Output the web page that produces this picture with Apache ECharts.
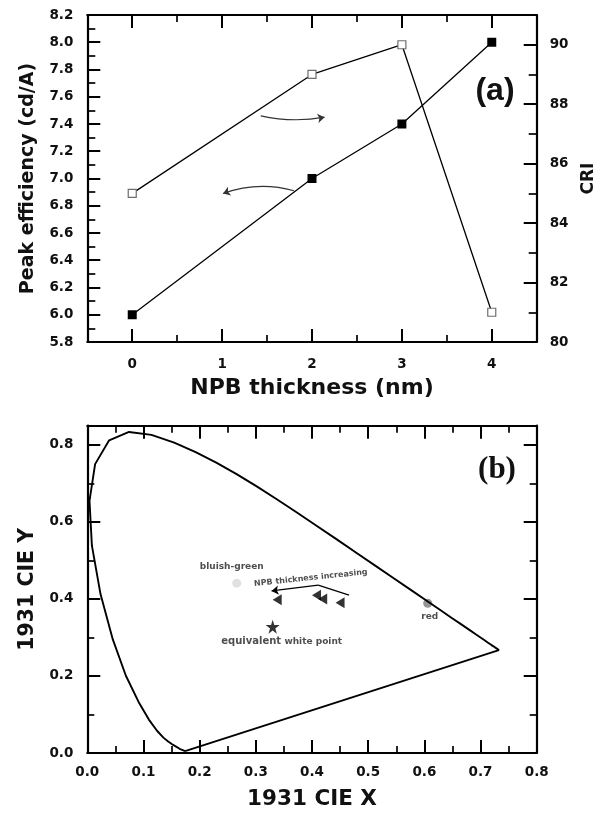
<!DOCTYPE html>
<html>
<head>
<meta charset="utf-8">
<script src="https://cdn.jsdelivr.net/npm/echarts@6/dist/echarts.min.js"></script>
<style>
  html, body { margin: 0; padding: 0; background: #fff; }
  #chart { width: 605px; height: 815px; }
</style>
</head>
<body>
<div id="chart"></div>
<script>
// ---- Panel (a): efficiency and CRI versus NPB thickness ----
const THICKNESS = [0, 2, 3, 4];
const PEAK_EFF = [6.0, 7.0, 7.4, 8.0];      // cd/A
const CRI_VALUES = [85, 89, 90, 81];

const A_X_MAJOR = [0, 1, 2, 3, 4];
const A_X_MINOR = [0.5, 1.5, 2.5, 3.5];
const A_X_LABELS = [0, 1, 2, 3, 4];
const A_EFF_LABELS = [5.8, 6.0, 6.2, 6.4, 6.6, 6.8, 7.0, 7.2, 7.4, 7.6, 7.8, 8.0, 8.2];
const A_EFF_MINOR = [5.9, 6.1, 6.3, 6.5, 6.7, 6.9, 7.1, 7.3, 7.5, 7.7, 7.9, 8.1];
const A_CRI_MAJOR = [80, 82, 84, 86, 88, 90];
const A_CRI_MINOR = [81, 83, 85, 87, 89, 91];

// curved guide arrows (start, end) in data units
const ARROW_TO_CRI = [[1.43, 7.46], [2.14, 7.45]];
const ARROW_TO_EFF = [[1.80, 6.91], [1.01, 6.89]];

// ---- Panel (b): CIE 1931 chromaticity diagram ----
const LOCUS_X = [0.1741, 0.1644, 0.1566, 0.1510, 0.1440, 0.1355, 0.1241, 0.1096, 0.0913, 0.0687,
  0.0454, 0.0235, 0.0082, 0.0039, 0.0139, 0.0389, 0.0743, 0.1142, 0.1547, 0.1929,
  0.2296, 0.2658, 0.3016, 0.3373, 0.3731, 0.4087, 0.4441, 0.4788, 0.5125, 0.5448,
  0.5752, 0.6029, 0.6270, 0.6482, 0.6658, 0.6801, 0.6915, 0.7006, 0.7079, 0.7140,
  0.7190, 0.7230, 0.7260, 0.7283, 0.7300, 0.7311, 0.7320, 0.7327, 0.7334, 0.7340,
  0.7347, 0.1741];
const LOCUS_Y = [0.0050, 0.0109, 0.0177, 0.0227, 0.0297, 0.0399, 0.0578, 0.0868, 0.1327, 0.2007,
  0.2950, 0.4127, 0.5384, 0.6548, 0.7502, 0.8120, 0.8338, 0.8262, 0.8059, 0.7816,
  0.7543, 0.7243, 0.6923, 0.6589, 0.6245, 0.5896, 0.5547, 0.5202, 0.4866, 0.4544,
  0.4242, 0.3965, 0.3725, 0.3514, 0.3340, 0.3197, 0.3083, 0.2993, 0.2920, 0.2859,
  0.2809, 0.2770, 0.2740, 0.2717, 0.2700, 0.2689, 0.2680, 0.2673, 0.2666, 0.2660,
  0.2653, 0.0050];

const BLUISH_GREEN = [0.266, 0.441];
const RED_POINT = [0.606, 0.389];
const WHITE_POINT = [0.330, 0.328];
const DEVICE_X = [0.338, 0.408, 0.419, 0.450];
const DEVICE_Y = [0.398, 0.410, 0.400, 0.390];

const B_X_MAJOR = [0, 0.1, 0.2, 0.3, 0.4, 0.5, 0.6, 0.7, 0.8];
const B_X_MINOR = [0.05, 0.15, 0.25, 0.35, 0.45, 0.55, 0.65, 0.75];
const B_Y_MAJOR = [0, 0.2, 0.4, 0.6, 0.8];
const B_Y_MINOR = [0.1, 0.3, 0.5, 0.7];

// trend arrow (kinked) and its caption anchor
const TREND_ARROW = [[0.466, 0.410], [0.411, 0.436], [0.328, 0.421]];
const TREND_CAPTION_AT = [0.398, 0.4545];

const FONT = 'DejaVu Sans';
const INK = '#111';

function axis(grid, pos, min, max, ticks, len, opts) {
  opts = opts || {};
  const a = {
    type: 'value', gridIndex: grid, position: pos, min: min, max: max,
    splitLine: { show: false },
    axisLine: { show: !!opts.line, onZero: false, lineStyle: { color: '#000', width: 2.2 } },
    axisTick: { show: true, inside: true, length: len, customValues: ticks,
                lineStyle: { color: '#000', width: len > 10 ? 2 : 1.7 } },
    axisLabel: { show: false }
  };
  if (opts.labels) {
    a.axisLabel = {
      show: true, customValues: opts.labels, margin: opts.margin || 14,
      color: INK, fontFamily: FONT, fontWeight: 'bold', fontSize: 13.5,
      formatter: opts.fmt || (v => String(v))
    };
  }
  if (opts.name) {
    a.name = opts.name;
    a.nameLocation = 'middle';
    a.nameGap = opts.nameGap;
    if (opts.nameRotate !== undefined) a.nameRotate = opts.nameRotate;
    a.nameTextStyle = { color: INK, fontFamily: FONT, fontWeight: 'bold', fontSize: opts.nameSize };
  }
  return a;
}

const fix1 = v => v.toFixed(1);

const option = {
  animation: false,
  backgroundColor: '#fff',
  grid: [
    { left: 87.3, right: 68.3, top: 15, bottom: 473 },
    { left: 87.3, right: 68.3, top: 425.7, bottom: 62 }
  ],
  xAxis: [
    axis(0, 'bottom', -0.5, 4.5, A_X_MAJOR, 13, { line: true, labels: A_X_LABELS, margin: 15,
         name: 'NPB thickness (nm)', nameGap: 35, nameSize: 22 }),
    axis(0, 'bottom', -0.5, 4.5, A_X_MINOR, 7),
    axis(0, 'top', -0.5, 4.5, A_X_MAJOR, 13, { line: true }),
    axis(0, 'top', -0.5, 4.5, A_X_MINOR, 7),
    axis(1, 'bottom', 0, 0.8, B_X_MAJOR, 13, { line: true, labels: B_X_MAJOR, margin: 12, fmt: fix1,
         name: '1931 CIE X', nameGap: 35, nameSize: 21.5 }),
    axis(1, 'bottom', 0, 0.8, B_X_MINOR, 7),
    axis(1, 'top', 0, 0.8, B_X_MAJOR, 13, { line: true }),
    axis(1, 'top', 0, 0.8, B_X_MINOR, 7)
  ],
  yAxis: [
    axis(0, 'left', 5.8, 8.2, A_EFF_LABELS, 13, { line: true, labels: A_EFF_LABELS, fmt: fix1,
         name: 'Peak efficiency (cd/A)', nameGap: 50, nameSize: 19, nameRotate: 90 }),
    axis(0, 'left', 5.8, 8.2, A_EFF_MINOR, 8),
    axis(0, 'right', 80, 91, A_CRI_MAJOR, 13, { line: true, labels: A_CRI_MAJOR, margin: 13,
         name: 'CRI', nameGap: 43, nameSize: 17, nameRotate: 90 }),
    axis(0, 'right', 80, 91, A_CRI_MINOR, 8),
    axis(1, 'left', 0, 0.85, B_Y_MAJOR, 13, { line: true, labels: B_Y_MAJOR, fmt: fix1,
         name: '1931 CIE Y', nameGap: 49, nameSize: 20.5, nameRotate: 90 }),
    axis(1, 'left', 0, 0.85, B_Y_MINOR, 7),
    axis(1, 'right', 0, 0.85, B_Y_MAJOR, 13, { line: true }),
    axis(1, 'right', 0, 0.85, B_Y_MINOR, 7)
  ],
  graphic: [
    { type: 'text', x: 495, y: 91, z: 10,
      style: { text: '(a)', font: 'bold 32px "Liberation Sans", Arial, sans-serif', fill: INK,
               align: 'center', verticalAlign: 'middle', textAlign: 'center', textVerticalAlign: 'middle' } },
    { type: 'text', x: 497, y: 470, z: 10,
      style: { text: '(b)', font: 'bold 31px "Liberation Serif", serif', fill: INK,
               align: 'center', verticalAlign: 'middle', textAlign: 'center', textVerticalAlign: 'middle' } }
  ],
  series: [
    // panel (a)
    {
      name: 'Peak efficiency', type: 'line', xAxisIndex: 0, yAxisIndex: 0,
      data: THICKNESS.map((x, i) => [x, PEAK_EFF[i]]),
      symbol: 'rect', symbolSize: 9,
      itemStyle: { color: '#000' },
      lineStyle: { color: '#000', width: 1.3 }, z: 4
    },
    {
      name: 'CRI', type: 'line', xAxisIndex: 0, yAxisIndex: 2,
      data: THICKNESS.map((x, i) => [x, CRI_VALUES[i]]),
      symbol: 'rect', symbolSize: 8,
      itemStyle: { color: '#fff', borderColor: '#6e6e6e', borderWidth: 1.2 },
      lineStyle: { color: '#000', width: 1.3 }, z: 4
    },
    {
      type: 'lines', coordinateSystem: 'cartesian2d', xAxisIndex: 0, yAxisIndex: 0,
      symbol: ['none', 'arrow'], symbolSize: 7,
      lineStyle: { color: '#333', width: 1.2, curveness: -0.1, opacity: 1 },
      data: [{ coords: ARROW_TO_CRI }]
    },
    {
      type: 'lines', coordinateSystem: 'cartesian2d', xAxisIndex: 0, yAxisIndex: 0,
      symbol: ['none', 'arrow'], symbolSize: 7,
      lineStyle: { color: '#333', width: 1.2, curveness: -0.16, opacity: 1 },
      data: [{ coords: ARROW_TO_EFF }]
    },
    // panel (b)
    {
      name: 'Spectral locus', type: 'line', xAxisIndex: 4, yAxisIndex: 4,
      data: LOCUS_X.map((x, i) => [x, LOCUS_Y[i]]),
      symbol: 'none', lineStyle: { color: '#000', width: 1.9 }
    },
    {
      type: 'scatter', xAxisIndex: 4, yAxisIndex: 4, data: [BLUISH_GREEN],
      symbol: 'circle', symbolSize: 9, itemStyle: { color: '#d9d9d9' },
      label: { show: true, formatter: 'bluish-green', position: 'inside', offset: [-5, -17],
               color: '#222', fontFamily: FONT, fontWeight: 'bold', fontSize: 9 }
    },
    {
      type: 'scatter', xAxisIndex: 4, yAxisIndex: 4, data: [RED_POINT],
      symbol: 'circle', symbolSize: 9, itemStyle: { color: '#7a7a7a' },
      label: { show: true, formatter: 'red', position: 'inside', offset: [2, 13],
               color: '#222', fontFamily: FONT, fontWeight: 'bold', fontSize: 9 }
    },
    {
      type: 'scatter', xAxisIndex: 4, yAxisIndex: 4, data: [WHITE_POINT],
      symbol: 'path://M50,0 L61,35 L98,35 L68,57 L79,91 L50,70 L21,91 L32,57 L2,35 L39,35 Z',
      symbolSize: 14, itemStyle: { color: '#000' },
      label: { show: true, position: 'inside', offset: [9, 15],
               formatter: '{a|equivalent} {b|white point}',
               rich: {
                 a: { color: '#222', fontFamily: FONT, fontWeight: 'bold', fontSize: 10 },
                 b: { color: '#222', fontFamily: FONT, fontWeight: 'bold', fontSize: 9 }
               } }
    },
    {
      type: 'scatter', xAxisIndex: 4, yAxisIndex: 4,
      data: DEVICE_X.map((x, i) => [x, DEVICE_Y[i]]),
      symbol: 'triangle', symbolSize: [11, 9], symbolRotate: 90,
      itemStyle: { color: '#000' }
    },
    {
      type: 'lines', coordinateSystem: 'cartesian2d', xAxisIndex: 4, yAxisIndex: 4,
      symbol: ['none', 'none'],
      lineStyle: { color: '#000', width: 1.2, opacity: 1 },
      data: [{ coords: TREND_ARROW.slice(0, 2) }]
    },
    {
      type: 'lines', coordinateSystem: 'cartesian2d', xAxisIndex: 4, yAxisIndex: 4,
      symbol: ['none', 'arrow'], symbolSize: 7,
      lineStyle: { color: '#000', width: 1.2, opacity: 1 },
      data: [{ coords: TREND_ARROW.slice(1, 3) }]
    },
    {
      type: 'scatter', xAxisIndex: 4, yAxisIndex: 4, data: [TREND_CAPTION_AT],
      symbolSize: 1, itemStyle: { color: 'rgba(0,0,0,0)' }, silent: true,
      label: { show: true, formatter: 'NPB thickness increasing', position: 'inside', rotate: 6,
               color: '#222', fontFamily: FONT, fontWeight: 'bold', fontSize: 8 }
    }
  ]
};

const chart = echarts.init(document.getElementById('chart'), null, { renderer: 'canvas' });
chart.setOption(option);
</script>
</body>
</html>
